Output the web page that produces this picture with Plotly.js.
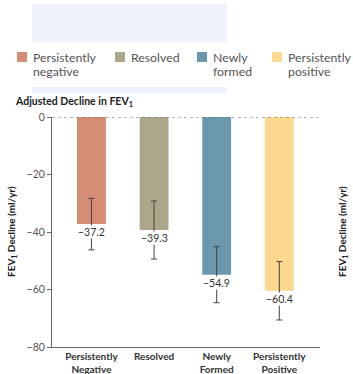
<!DOCTYPE html>
<html>
<head>
<meta charset="utf-8">
<script src="https://cdn.plot.ly/plotly-3.0.1.min.js"></script>
<style>html,body{margin:0;padding:0;background:#fff;}#chart{width:353px;height:374px;}</style>
</head>
<body>
<div id="chart"></div>
<script>
// ---- data ----
const categories = ["Persistently<br>Negative", "Resolved", "Newly<br>Formed", "Persistently<br>Positive"];
const declineValues = [-37.2, -39.3, -54.9, -60.4];
const ciUpper = [-28.3, -29.2, -45.1, -50.3];
const ciLower = [-46.2, -49.4, -64.6, -70.6];
const barColors = ["#d48c75", "#aca68a", "#6b98ac", "#fdd98f"];
const legendLabels = [["Persistently", "negative"], ["Resolved"], ["Newly", "formed"], ["Persistently", "positive"]];
const yTickValues = [0, -20, -40, -60, -80];

// ---- geometry helpers (pixel -> paper) ----
const W = 353, H = 374;
const M = {l: 52, r: 33, t: 117, b: 27};
const PW = W - M.l - M.r, PH = H - M.t - M.b;
const px = x => (x - M.l) / PW;
const py = y => (H - M.b - y) / PH;

const fmt = v => (v < 0 ? "\u2212" : "") + Math.abs(v).toFixed(1);

const trace = {
  type: "bar",
  x: categories,
  y: declineValues,
  marker: {color: barColors, line: {width: 0}},
  error_y: {
    type: "data",
    symmetric: false,
    array: declineValues.map((v, i) => ciUpper[i] - v),
    arrayminus: declineValues.map((v, i) => v - ciLower[i]),
    color: "#444",
    thickness: 1,
    width: 3
  },
  hoverinfo: "none",
  showlegend: false
};

const shapes = [
  {type: "rect", xref: "paper", yref: "paper", x0: px(32), x1: px(227), y0: py(42), y1: py(4), fillcolor: "#eef2fb", line: {width: 0}, layer: "below"},
  {type: "rect", xref: "paper", yref: "paper", x0: px(32), x1: px(227), y0: py(93), y1: py(87), fillcolor: "#eef2fb", line: {width: 0}, layer: "below"},
  {type: "line", xref: "paper", yref: "y", x0: 0, x1: 1, y0: 0, y1: 0, line: {color: "#666", width: 1, dash: "3px,3px"}, layer: "above"}
];

const annotations = [];
const legendX = [17, 115, 197, 272];
legendLabels.forEach((lines, i) => {
  shapes.push({type: "rect", xref: "paper", yref: "paper", x0: px(legendX[i]), x1: px(legendX[i] + 10), y0: py(62), y1: py(52), fillcolor: barColors[i], line: {width: 0}});
  lines.forEach((t, j) => {
    annotations.push({xref: "paper", yref: "paper", x: px(legendX[i] + 15), y: py(57.5 + 13.5 * j), xanchor: "left", yanchor: "middle", showarrow: false, borderpad: 0, text: t, font: {family: "Lato, sans-serif", size: 12.3, color: "#555"}});
  });
});

declineValues.forEach((v, i) => {
  annotations.push({x: categories[i], y: v, xref: "x", yref: "y", yanchor: "top", yshift: -1, showarrow: false, text: fmt(v), bgcolor: "#fff", borderpad: 0, font: {family: "Lato, sans-serif", size: 10.5, color: "#333"}});
});

annotations.push({xref: "paper", yref: "paper", x: px(13), y: py(102), xanchor: "left", yanchor: "middle", showarrow: false, text: "<b>Adjusted Decline in FEV<sub>1</sub></b>", font: {family: "Lato, sans-serif", size: 10.5, color: "#222"}});
[11, 342].forEach(xp => {
  annotations.push({xref: "paper", yref: "paper", x: px(xp), y: 0.5, xanchor: "center", yanchor: "middle", textangle: -90, showarrow: false, text: "<b>FEV<sub>1</sub> Decline (ml/yr)</b>", font: {family: "Lato, sans-serif", size: 10, color: "#222"}});
});

const layout = {
  width: W, height: H,
  margin: M,
  paper_bgcolor: "#fff", plot_bgcolor: "#fff",
  bargap: 0.54,
  showlegend: false,
  font: {family: "Lato, sans-serif"},
  xaxis: {
    type: "category", range: [-0.63, 3.65], showgrid: false, zeroline: false,
    showline: true, linecolor: "#666", linewidth: 1, ticks: "",
    tickfont: {family: "Lato, sans-serif", size: 10, color: "#333", weight: "bold"},
    fixedrange: true
  },
  yaxis: {
    range: [-80, 0], tickvals: yTickValues, ticktext: yTickValues.map(v => v === 0 ? "0" : "\u2212" + Math.abs(v)),
    showgrid: false, zeroline: false, showline: true, linecolor: "#666", linewidth: 1,
    ticks: "outside", ticklen: 4, tickcolor: "#666", tickwidth: 1,
    tickfont: {family: "Lato, sans-serif", size: 10.5, color: "#555"},
    fixedrange: true
  },
  shapes: shapes,
  annotations: annotations
};

Plotly.newPlot("chart", [trace], layout, {displayModeBar: false, staticPlot: true});
</script>
</body>
</html>
